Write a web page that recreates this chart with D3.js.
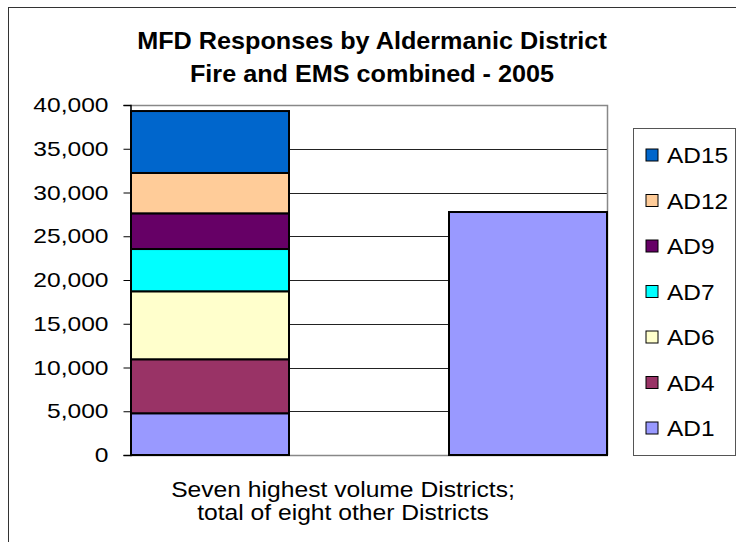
<!DOCTYPE html>
<html>
<head>
<meta charset="utf-8">
<script src="https://cdn.jsdelivr.net/npm/d3@7"></script>
<style>
  html, body { margin: 0; padding: 0; background: #fff; }
  svg { display: block; font-family: "Liberation Sans", Arial, sans-serif; }
</style>
</head>
<body>
<svg id="chart" width="736" height="542"></svg>
<script>
// ---- data ----
const titleLines = ["MFD Responses by Aldermanic District", "Fire and EMS combined - 2005"];
const xLabelLines = ["Seven highest volume Districts;", "total of eight other Districts"];
const categories = ["Seven highest", "gap", "Eight other"];
const seriesNames = ["AD1", "AD4", "AD6", "AD7", "AD9", "AD12", "AD15"];
const seriesColors = ["#9999FF", "#993366", "#FFFFCC", "#00FFFF", "#660066", "#FFCC99", "#0066CC"];
// values per series for categories [Seven highest, gap, Eight other]
const AD1  = [4770, 0, 27770];
const AD4  = [6170, 0, 0];
const AD6  = [7770, 0, 0];
const AD7  = [4830, 0, 0];
const AD9  = [4080, 0, 0];
const AD12 = [4610, 0, 0];
const AD15 = [7080, 0, 0];
const yTicks = [0, 5000, 10000, 15000, 20000, 25000, 30000, 35000, 40000];

// ---- build ----
const seriesValues = [AD1, AD4, AD6, AD7, AD9, AD12, AD15];
const table = categories.map((c, i) => {
  const row = { cat: c };
  seriesNames.forEach((s, j) => row[s] = seriesValues[j][i]);
  return row;
});
const stacked = d3.stack().keys(seriesNames)(table);

const svg = d3.select("#chart");
const plot = { left: 130, right: 607, top: 105, bottom: 455 };

const x = d3.scaleBand().domain(categories).range([plot.left, plot.right]).padding(0);
const y = d3.scaleLinear().domain([0, 40000]).range([plot.bottom, plot.top]);
const color = d3.scaleOrdinal().domain(seriesNames).range(seriesColors);

function stretch(sel, factor) {
  sel.each(function () {
    const w = this.getComputedTextLength();
    this.setAttribute("textLength", (w * factor).toFixed(1));
    this.setAttribute("lengthAdjust", "spacingAndGlyphs");
  });
}

// outer chart frame
svg.append("rect")
  .attr("x", 8.5).attr("y", 7.5).attr("width", 760).attr("height", 560)
  .attr("fill", "#fff").attr("stroke", "#333").attr("stroke-width", 1);

// title
const title = svg.append("g").attr("font-weight", "bold").attr("font-size", 24)
  .attr("text-anchor", "middle").attr("fill", "#000");
title.selectAll("text").data(titleLines).join("text")
  .attr("x", 372).attr("y", (d, i) => 49 + i * 33)
  .text(d => d)
  .call(stretch, 1.05);

// plot area background
svg.append("rect")
  .attr("x", plot.left).attr("y", plot.top)
  .attr("width", plot.right - plot.left).attr("height", plot.bottom - plot.top)
  .attr("fill", "#fff");

// gridlines
svg.append("g").selectAll("line")
  .data(yTicks.filter(t => t > 0 && t < 40000)).join("line")
  .attr("x1", plot.left).attr("x2", plot.right)
  .attr("y1", d => Math.round(y(d)) + 0.5).attr("y2", d => Math.round(y(d)) + 0.5)
  .attr("stroke", "#222").attr("stroke-width", 1);

// plot border (top & right, bottom)
svg.append("path")
  .attr("d", `M${plot.left},${plot.top + 0.5}H${plot.right + 0.5}V${plot.bottom}`)
  .attr("fill", "none").attr("stroke", "#888").attr("stroke-width", 1.5);
svg.append("line")
  .attr("x1", plot.left).attr("x2", plot.right + 1)
  .attr("y1", plot.bottom + 0.5).attr("y2", plot.bottom + 0.5)
  .attr("stroke", "#888").attr("stroke-width", 1.5);

// bars
svg.append("g").selectAll("g").data(stacked).join("g")
  .attr("fill", d => color(d.key))
  .selectAll("rect").data(d => d.filter(p => p[1] - p[0] > 0)).join("rect")
  .attr("x", d => x(d.data.cat) + 1)
  .attr("width", x.bandwidth() - 1)
  .attr("y", d => y(d[1]))
  .attr("height", d => y(d[0]) - y(d[1]))
  .attr("stroke", "#000").attr("stroke-width", 2);

// y axis
const yAxis = svg.append("g")
  .attr("transform", `translate(${plot.left + 0.5},0)`)
  .call(d3.axisLeft(y).tickValues(yTicks).tickSize(7).tickPadding(15).tickFormat(d3.format(",")));
yAxis.select(".domain").attr("stroke", "#000").attr("stroke-width", 1.5);
yAxis.selectAll(".tick line").attr("stroke", "#000").attr("stroke-width", 1);
yAxis.selectAll(".tick text")
  .attr("font-size", 21).attr("font-family", "Liberation Sans, Arial, sans-serif").attr("fill", "#000")
  .call(stretch, 1.17);

// x label
const xl = svg.append("g").attr("font-size", 22).attr("text-anchor", "middle").attr("fill", "#000");
xl.selectAll("text").data(xLabelLines).join("text")
  .attr("x", 343).attr("y", (d, i) => 497 + i * 23)
  .text(d => d)
  .call(stretch, 1.12);

// legend
const legend = { x: 633, y: 128, w: 102, h: 327 };
svg.append("rect")
  .attr("x", legend.x + 0.5).attr("y", legend.y + 0.5)
  .attr("width", legend.w).attr("height", legend.h)
  .attr("fill", "#fff").attr("stroke", "#555").attr("stroke-width", 1);
const legendOrder = seriesNames.slice().reverse();
const ly = d3.scalePoint().domain(legendOrder).range([155, 428]);
const items = svg.append("g").selectAll("g").data(legendOrder).join("g")
  .attr("transform", d => `translate(0,${ly(d)})`);
items.append("rect")
  .attr("x", 646).attr("y", -6).attr("width", 12).attr("height", 12)
  .attr("fill", d => color(d)).attr("stroke", "#000").attr("stroke-width", 1);
items.append("text")
  .attr("x", 667).attr("y", 8).attr("font-size", 22).attr("fill", "#000")
  .text(d => d)
  .call(stretch, 1.11);
</script>
</body>
</html>
